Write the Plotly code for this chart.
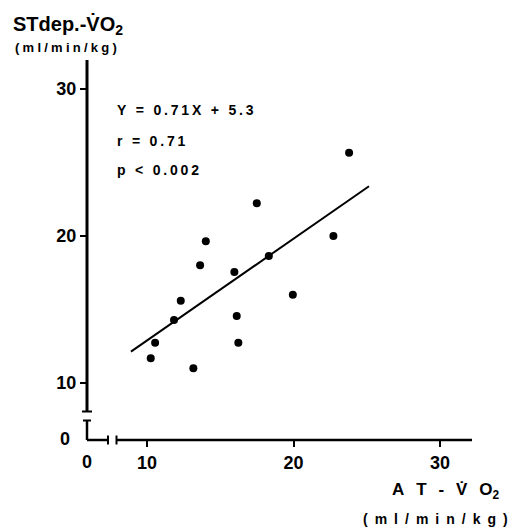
import plotly.graph_objects as go

# ---- data ----
at_vo2 = [23.79, 17.49, 14.01, 22.72, 13.62, 18.31, 15.96, 19.95, 12.30, 11.84, 16.12, 10.55, 16.23, 10.25, 13.16]
stdep_vo2 = [25.63, 22.19, 19.61, 19.97, 17.97, 18.61, 17.52, 15.97, 15.56, 14.25, 14.52, 12.71, 12.71, 11.65, 10.97]
fit_x = [8.9, 25.15]
fit_y = [12.1, 23.35]
x_ticks = [10, 20, 30]
y_ticks = [10, 20, 30]
x_tick_text = ["10", "20", "30"]
y_tick_text = ["10", "20", "30"]
stats_lines = ["Y = 0.71X + 5.3", "r = 0.71", "p < 0.002"]

FONT = "Liberation Sans"
OFF = 8  # page body margin
W, H = 524 - OFF, 529 - OFF
L, R, T, B = 87, 472, 60, 440  # plot area in window pixels


def px(xp):
    return (xp - L) / (R - L)


def py(yp):
    return (B - yp) / (B - T)


def spaced(s, sep="\u2009"):
    return sep.join(list(s))


fig = go.Figure()
fig.add_trace(go.Scatter(x=fit_x, y=fit_y, mode="lines",
                         line=dict(color="black", width=2), hoverinfo="skip"))
fig.add_trace(go.Scatter(x=at_vo2, y=stdep_vo2, mode="markers",
                         marker=dict(color="black", size=8)))

axis_common = dict(showgrid=False, zeroline=False, showline=False,
                   ticks="outside", ticklen=6, tickwidth=2, tickcolor="black",
                   tickfont=dict(family=FONT, size=18, color="black", weight="bold"))

fig.update_xaxes(range=[5.90, 32.18], tickvals=x_ticks, ticktext=x_tick_text, **axis_common)
fig.update_yaxes(range=[6.09, 31.94], tickvals=y_ticks, ticktext=y_tick_text, **axis_common)

shapes = []
lw = 2.5


def seg(x0, y0, x1, y1, w=lw):
    shapes.append(dict(type="line", xref="paper", yref="paper",
                       x0=px(x0), y0=py(y0), x1=px(x1), y1=py(y1),
                       line=dict(color="black", width=w)))


# y axis with break
seg(87, 60, 87, 411.5, 3)
seg(82, 411.5, 92, 411.5, 2)
seg(83, 420.5, 91, 420.5, 2)
seg(87, 420.5, 87, 440, 2.5)
# x axis with break
seg(87, 440, 108, 440)
seg(108, 435.5, 108, 444.5, 2)
seg(116.5, 435.5, 116.5, 444.5, 2)
seg(116.5, 440, 472, 440)

annotations = []


def ann(text, xp, yp, size, xanchor="left", yanchor="middle"):
    annotations.append(dict(text=text, xref="paper", yref="paper", x=px(xp), y=py(yp),
                            xanchor=xanchor, yanchor=yanchor, showarrow=False,
                            font=dict(family=FONT, size=size, color="black", weight="bold")))


ann("0", 87, 462, 18, "center")
ann("0", 65, 439, 18, "center")
ann("STdep.-V\u0307O<sub>2</sub>", 11, 25, 20)
ann(spaced("(ml/min/kg)", "\u2005"), 13, 48, 13)
sp = "\u2002\u2009"
ann(sp.join(["A", "T", "-", "V\u0307", "O<sub>2</sub>"]), 390, 491, 17)
ann(spaced("(ml/min/kg)", "\u2002"), 361, 519, 14)
ann(spaced(stats_lines[0]), 115, 110, 14)
ann(spaced(stats_lines[1]), 115, 141, 14)
ann(spaced(stats_lines[2]), 115, 170, 14)

fig.update_layout(width=W, height=H, showlegend=False,
                  margin=dict(l=L - OFF, r=W - (R - OFF), t=T - OFF, b=H - (B - OFF)),
                  paper_bgcolor="white", plot_bgcolor="white",
                  shapes=shapes, annotations=annotations)

fig.write_html("out.html")
